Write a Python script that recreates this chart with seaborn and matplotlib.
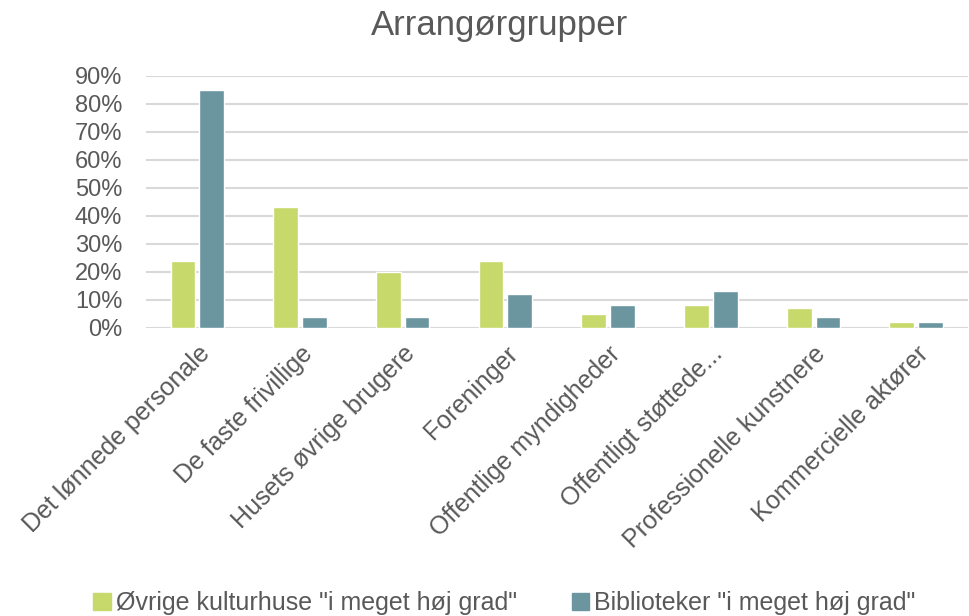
import pandas as pd
import seaborn as sns
import matplotlib.pyplot as plt
from matplotlib.ticker import PercentFormatter
from matplotlib.patches import Patch

# Data
categories = ['Det lønnede personale', 'De faste frivillige', 'Husets øvrige brugere',
              'Foreninger', 'Offentlige myndigheder', 'Offentligt støttede...',
              'Professionelle kunstnere', 'Kommercielle aktører']
series_names = ['Øvrige kulturhuse "i meget høj grad"', 'Biblioteker "i meget høj grad"']
kulturhuse = [0.24, 0.43, 0.20, 0.24, 0.05, 0.08, 0.07, 0.02]
biblioteker = [0.85, 0.04, 0.04, 0.12, 0.08, 0.13, 0.04, 0.02]
colors = ['#C6D96A', '#6B96A0']

df = pd.DataFrame({
    'kategori': categories * 2,
    'serie': [series_names[0]] * len(categories) + [series_names[1]] * len(categories),
    'andel': kulturhuse + biblioteker,
})

sns.set_theme(style='white')
plt.rcParams['font.family'] = ['Liberation Sans', 'DejaVu Sans']
text_color = '#595959'

fig = plt.figure(figsize=(9.7, 6.16), dpi=100)
ax = fig.add_axes([0.1505, 0.468, 0.847, 0.409])

sns.barplot(data=df, x='kategori', y='andel', hue='serie', palette=colors,
            width=0.56, gap=0.14, ax=ax, legend=False, saturation=1)

ax.set_ylim(0, 0.9)
ax.set_yticks([i / 10 for i in range(10)])
ax.yaxis.set_major_formatter(PercentFormatter(1.0, decimals=0))
ax.grid(axis='y', color='#D9D9D9', linewidth=1.5)
ax.set_axisbelow(True)
for s in ax.spines.values():
    s.set_visible(False)
ax.set_xlabel('')
ax.set_ylabel('')
ax.tick_params(axis='both', length=0, colors=text_color)
ax.tick_params(axis='y', pad=17, labelsize=17)
ax.set_xticks(range(len(categories)))
ax.set_xticklabels(categories, rotation=45, ha='right', rotation_mode='anchor',
                   color=text_color, fontsize=18)
ax.tick_params(axis='x', pad=10)

fig.text(0.515, 0.985, 'Arrangørgrupper', ha='center', va='top',
         fontsize=25, color=text_color)

handles = [Patch(color=c, label=n) for c, n in zip(colors, series_names)]
fig.legend(handles=handles, loc='lower center', bbox_to_anchor=(0.52, -0.035), ncol=2,
           frameon=False, fontsize=18, labelcolor=text_color, handlelength=0.7,
           handleheight=0.7, handletextpad=0.2, columnspacing=2.2)

fig.savefig('out.png', dpi=100)
